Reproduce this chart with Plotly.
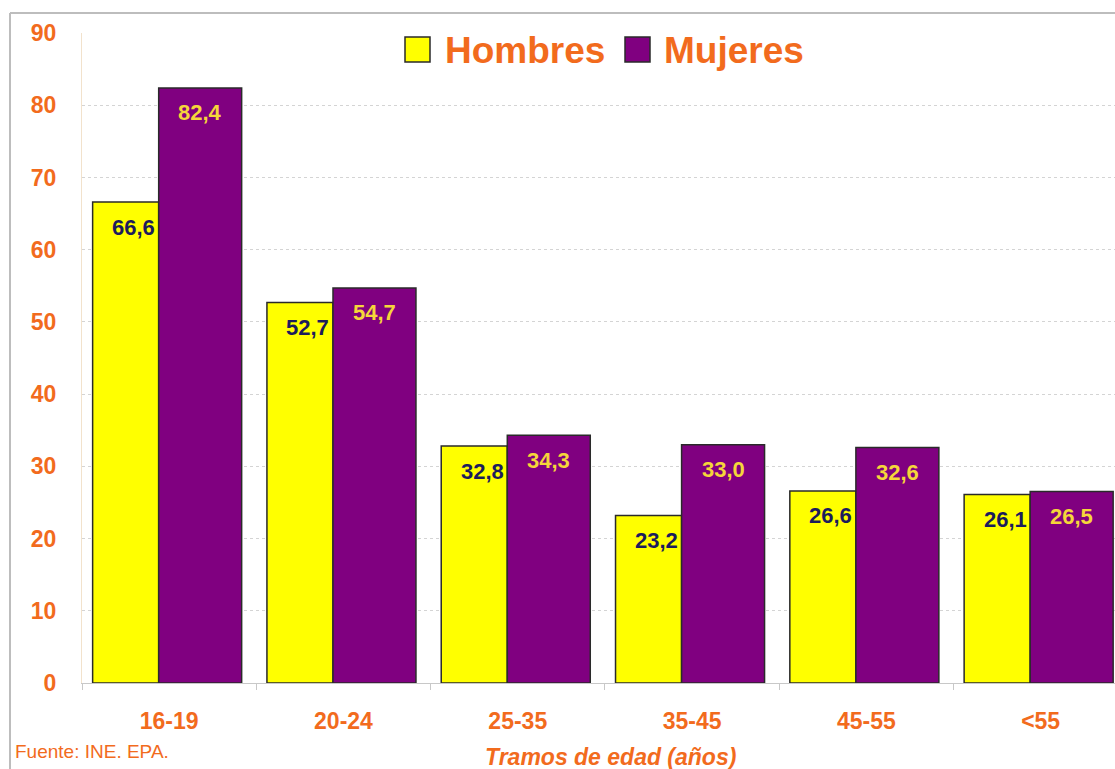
import plotly.graph_objects as go

# Data (tasa de paro por tramos de edad)
tramos = ["16-19", "20-24", "25-35", "35-45", "45-55", "<55"]
hombres = [66.6, 52.7, 32.8, 23.2, 26.6, 26.1]
mujeres = [82.4, 54.7, 34.3, 33.0, 32.6, 26.5]
y_ticks = [0, 10, 20, 30, 40, 50, 60, 70, 80, 90]

# Colors
ORANGE = "#F26B1D"
YELLOW = "#FFFF00"
PURPLE = "#800080"
NAVY = "#1C1C5C"
LABEL_YELLOW = "#F5D63A"
EDGE = "#2A2A2A"
FONT = "Arial, Liberation Sans, sans-serif"

W, H = 1115, 769
# plot area in pixels
PLOT_L, PLOT_R, PLOT_T, PLOT_B = 82, 1115, 33, 683
PW = PLOT_R - PLOT_L
PH = PLOT_B - PLOT_T


def px_x(x):
    return (x - PLOT_L) / PW


def px_y(y):
    return (PLOT_B - y) / PH


def fmt(v):
    return f"{v:.1f}".replace(".", ",")


fig = go.Figure()

fig.add_trace(go.Bar(
    x=tramos, y=hombres, name="Hombres",
    marker=dict(color=YELLOW, line=dict(color=EDGE, width=1.5)),
    offset=-0.439, width=0.379,
))
fig.add_trace(go.Bar(
    x=tramos, y=mujeres, name="Mujeres",
    marker=dict(color=PURPLE, line=dict(color=EDGE, width=1.5)),
    offset=-0.060, width=0.476,
))

# value labels inside the bars
for cat, h, m in zip(tramos, hombres, mujeres):
    fig.add_annotation(
        x=cat, y=h, xref="x", yref="y", text=f"<b>{fmt(h)}</b>",
        showarrow=False, xanchor="right", yanchor="middle",
        xshift=-12, yshift=-25,
        font=dict(family=FONT, size=22, color=NAVY),
    )
    fig.add_annotation(
        x=cat, y=m, xref="x", yref="y", text=f"<b>{fmt(m)}</b>",
        showarrow=False, xanchor="center", yanchor="middle",
        xshift=31, yshift=-25,
        font=dict(family=FONT, size=22, color=LABEL_YELLOW),
    )

# legend built by hand (big squares + big orange text)
legend_items = [("Hombres", YELLOW, 405, 443), ("Mujeres", PURPLE, 625, 662)]
for label, color, sq_x, tx_x in legend_items:
    fig.add_shape(
        type="rect", xref="paper", yref="paper",
        x0=px_x(sq_x), x1=px_x(sq_x + 25), y0=px_y(62), y1=px_y(37),
        fillcolor=color, line=dict(color=EDGE, width=1.5),
    )
    fig.add_annotation(
        x=px_x(tx_x), y=px_y(50), xref="paper", yref="paper",
        text=f"<b>{label}</b>", showarrow=False,
        xanchor="left", yanchor="middle",
        font=dict(family=FONT, size=37, color=ORANGE),
    )

# axis title and source note
fig.add_annotation(
    x=px_x(610), y=px_y(757), xref="paper", yref="paper",
    text="<b><i>Tramos de edad (años)</i></b>", showarrow=False,
    xanchor="center", yanchor="middle",
    font=dict(family=FONT, size=23, color=ORANGE),
)
fig.add_annotation(
    x=px_x(13), y=px_y(752), xref="paper", yref="paper",
    text="Fuente: INE. EPA.", showarrow=False,
    xanchor="left", yanchor="middle",
    font=dict(family="Liberation Sans Narrow, Arial Narrow, Arial", size=19, color=ORANGE),
)

# outer frame (top/left border of the original chart)
fig.add_shape(
    type="line", xref="paper", yref="paper",
    x0=px_x(10), x1=px_x(1115), y0=px_y(13), y1=px_y(13),
    line=dict(color="#BDBDBD", width=2),
)
fig.add_shape(
    type="line", xref="paper", yref="paper",
    x0=px_x(10), x1=px_x(10), y0=px_y(769), y1=px_y(13),
    line=dict(color="#BDBDBD", width=2),
)

fig.update_layout(
    width=W, height=H,
    margin=dict(l=PLOT_L, r=W - PLOT_R, t=PLOT_T, b=H - PLOT_B),
    paper_bgcolor="white", plot_bgcolor="white",
    barmode="overlay",
    showlegend=False,
    xaxis=dict(
        type="category",
        range=[-0.5, -0.5 + PW / 174.3],
        tickson="boundaries", ticks="outside", ticklen=6,
        tickcolor="#C8C8C8", showline=True, linecolor="#C8C8C8",
        showgrid=False,
        tickfont=dict(family=FONT, size=23, color=ORANGE, weight="bold"),
        ticklabelstandoff=17,
    ),
    yaxis=dict(
        range=[0, 90], tickvals=y_ticks,
        showgrid=True, gridcolor="#D4D4D4", griddash="dot",
        showline=True, linecolor="#F2E2CC", zeroline=False,
        ticks="", ticklabelstandoff=20,
        tickfont=dict(family=FONT, size=23, color=ORANGE, weight="bold"),
    ),
)

# drop the default 8px page margin so the figure sits at the window corner
fig.write_html(
    "out.html",
    config={"displayModeBar": False},
    post_script="document.body.style.margin='0';document.body.style.overflow='hidden';",
)
